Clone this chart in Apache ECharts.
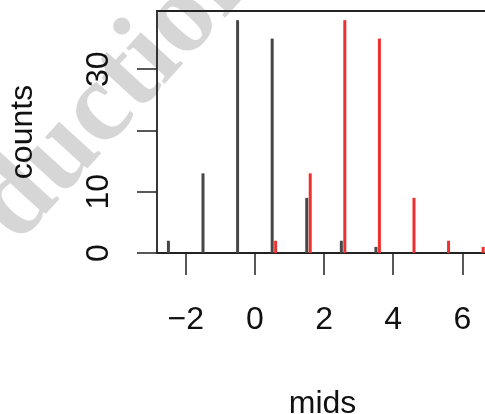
<!DOCTYPE html>
<html>
<head>
<meta charset="utf-8">
<script src="https://cdn.jsdelivr.net/npm/echarts@6/dist/echarts.min.js"></script>
<style>
  html, body { margin: 0; padding: 0; background: #fff; }
  #chart { width: 485px; height: 414px; }
</style>
</head>
<body>
<div id="chart"></div>
<script>
// Histogram counts drawn as vertical spikes at the bin mids
const mids1 = [-2.5, -1.5, -0.5, 0.5, 1.5, 2.5, 3.5];
const counts1 = [2, 13, 38, 35, 9, 2, 1];
const mids2 = [0.6, 1.6, 2.6, 3.6, 4.6, 5.6, 6.6];
const counts2 = [2, 13, 38, 35, 9, 2, 1];
const xTicks = [-2, 0, 2, 4, 6];
const yTicks = [0, 10, 20, 30];
const yLabels = [0, 10, 30];

const FONT = '"Liberation Sans", Arial, Helvetica, sans-serif';

const chart = echarts.init(document.getElementById('chart'), null, { renderer: 'canvas' });

function pairs(xs, ys) { return xs.map((x, i) => [x, ys[i]]); }

chart.setOption({
  animation: false,
  backgroundColor: '#fff',
  graphic: [{
    type: 'text',
    x: 120,
    y: 89,
    rotation: 47.6 * Math.PI / 180,
    z: -10,
    silent: true,
    style: {
      x: 0,
      y: 0,
      text: 'duction',
      font: 'bold 114px "Liberation Serif", "Times New Roman", serif',
      textAlign: 'center',
      textVerticalAlign: 'middle',
      fill: '#d6d6d6'
    }
  }],
  grid: {
    left: 157, top: 11, right: -3, bottom: 161,
    outerBoundsMode: 'none',
    show: true, borderColor: '#222', borderWidth: 1.8, backgroundColor: 'transparent'
  },
  xAxis: {
    type: 'value',
    min: -2.83,
    max: 6.74,
    name: 'mids',
    nameLocation: 'middle',
    nameGap: 135,
    nameTextStyle: { fontFamily: FONT, fontSize: 32, color: '#111' },
    axisLine: { show: false, onZero: false },
    splitLine: { show: false },
    axisTick: { show: true, length: 22, customValues: xTicks, lineStyle: { color: '#222', width: 1.5 } },
    axisLabel: {
      customValues: xTicks,
      margin: 51,
      fontFamily: FONT, fontSize: 32, color: '#111',
      formatter: v => (v < 0 ? '\u2212' + Math.abs(v) : String(v))
    }
  },
  yAxis: {
    type: 'value',
    min: 0,
    max: 39.5,
    name: 'counts',
    nameLocation: 'middle',
    nameRotate: 90,
    nameGap: 118,
    nameTextStyle: { fontFamily: FONT, fontSize: 32, color: '#111' },
    axisLine: { show: false, onZero: false },
    splitLine: { show: false },
    axisTick: { show: true, length: 20, customValues: yTicks, lineStyle: { color: '#222', width: 1.5 } },
    axisLabel: {
      customValues: yLabels,
      rotate: 90,
      margin: 42,
      fontFamily: FONT, fontSize: 32, color: '#111'
    }
  },
  series: [
    {
      type: 'bar',
      data: pairs(mids1, counts1),
      barWidth: 3,
      barGap: '-100%',
      itemStyle: { color: '#474747' }
    },
    {
      type: 'bar',
      data: pairs(mids2, counts2),
      barWidth: 3,
      barGap: '-100%',
      itemStyle: { color: '#ef3030' }
    }
  ]
});
</script>
</body>
</html>
